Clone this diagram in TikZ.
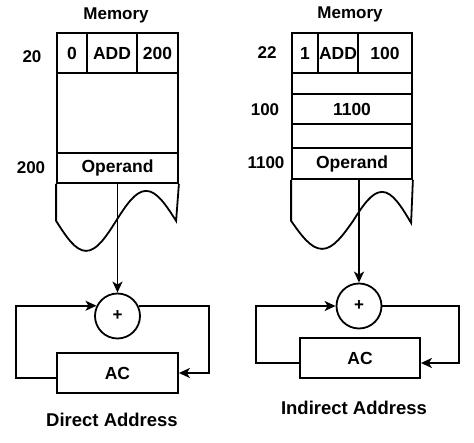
\documentclass[tikz,border=0pt]{standalone}
\usepackage{fontspec}
\setmainfont{Liberation Sans}
\usetikzlibrary{arrows.meta}

\tikzset{
  cell/.style={rectangle,draw,line width=1.8pt,inner sep=0pt,font=\bfseries\fontsize{17.5}{19}\selectfont},
  adder/.style={circle,draw,line width=1.8pt,minimum size=45pt,inner sep=0pt,font=\bfseries\fontsize{17}{19}\selectfont},
  lbl/.style={font=\bfseries\fontsize{17}{19}\selectfont},
  titletext/.style={font=\bfseries\fontsize{18.5}{21}\selectfont},
  wire/.style={line width=1.8pt},
  flow/.style={line width=1.8pt,-{Stealth[length=11pt,width=10pt,inset=3pt]}}
}

\begin{document}
\begin{tikzpicture}[x=1pt,y=-1pt]
\useasboundingbox (0,0) rectangle (474,443);

% direct address
\node[lbl] (memA) at (116,15) {Memory};
\node[cell,minimum width=30pt,minimum height=40pt] (modeA) at (72,53) {0};
\node[cell,minimum width=50pt,minimum height=40pt] (opcA) at (112,53) {ADD};
\node[cell,minimum width=41pt,minimum height=40pt] (adrA) at (157.5,53) {200};
\node[cell,minimum width=121pt,minimum height=80pt] (gapA) at (117.5,113) {};
\node[cell,minimum width=121pt,minimum height=30pt] (operA) at (117.5,168) {Operand};
\node[lbl] (l20) at (32,57) {20};
\node[lbl] (l200) at (31,168) {200};
\draw[wire] (operA.south west) -- ++(0,37) sin ++(30,30) cos ++(30,-30)
  sin ++(30,-30) cos ++(30,30) -- (operA.south east);
\node[adder] (plusA) at (117.5,316) {+};
\node[cell,minimum width=121pt,minimum height=40pt] (acA) at (117.5,373) {AC};
\draw[flow] (operA.south) -- (plusA.north);
\draw[flow] (plusA.26) -| ([xshift=30pt]acA.east) -- (acA.east);
\draw[flow] ([yshift=-5pt]acA.west) -- ++(-40,0) |- (plusA.154);
\node[titletext] (capA) at (112,420) {Direct Address};

% indirect address
\node[lbl] (memB) at (350,14) {Memory};
\node[cell,minimum width=26pt,minimum height=40pt] (modeB) at (305,53) {1};
\node[cell,minimum width=40pt,minimum height=40pt] (opcB) at (338,53) {ADD};
\node[cell,minimum width=54pt,minimum height=40pt] (adrB) at (385,53) {100};
\node[cell,minimum width=120pt,minimum height=21pt] (gapB) at (352,83.5) {};
\node[cell,minimum width=120pt,minimum height=30pt] (ptrB) at (352,109) {1100};
\node[cell,minimum width=120pt,minimum height=24pt] (gapC) at (352,136) {};
\node[cell,minimum width=120pt,minimum height=31pt] (operB) at (352,163.5) {Operand};
\node[lbl] (l22) at (267,53) {22};
\node[lbl] (l100) at (265,110) {100};
\node[lbl] (l1100) at (266,163) {1100};
\draw[wire] (operB.south west) -- ++(0,41) sin ++(31,28) cos ++(31,-28)
  sin ++(29,-29) cos ++(29,31) -- (operB.south east);
\node[adder] (plusB) at (359,306) {+};
\node[cell,minimum width=120pt,minimum height=40pt] (acB) at (360,358) {AC};
\draw[flow] (operB.south -| plusB.north) -- (plusB.north);
\draw[flow] (plusB.east) -| ([xshift=38pt,yshift=-5pt]acB.east) -- ([yshift=-5pt]acB.east);
\draw[flow] ([yshift=-5pt]acB.west) -- ++(-43,0) |- (plusB.west);
\node[titletext] (capB) at (354,408) {Indirect Address};
\end{tikzpicture}
\end{document}
